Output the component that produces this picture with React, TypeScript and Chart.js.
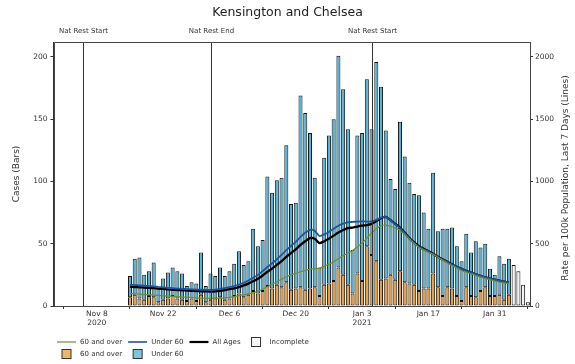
import React, { useEffect, useRef } from 'react';
import { Chart, registerables } from 'chart.js';

Chart.register(...registerables);

// ---------- data ----------
const AXIS_START = '2020-10-30';
const FIRST_DAY = '2020-11-15';

// total daily cases (bars), Nov 15 2020 .. Feb 7 2021
const totalCases = [
  24, 38, 39, 25, 28, 35, 14, 22, 27, 31,
  28, 26, 16, 19, 18, 43, 16, 26, 24, 31,
  24, 28, 34, 44, 33, 36, 62, 48, 53, 104,
  91, 101, 103, 129, 82, 83, 169, 155, 139, 103,
  31, 119, 137, 150, 201, 174, 142, 45, 137, 139,
  182, 142, 196, 176, 141, 102, 94, 148, 120, 99,
  90, 89, 75, 62, 107, 60, 62, 62, 63, 48,
  36, 58, 43, 52, 47, 50, 30, 25, 40, 34,
  38, 33, 28, 17, 3,
];

// cases aged 60 and over, complete days only (Nov 15 .. Feb 2)
const over60Cases = [
  7, 9, 6, 5, 8, 7, 3, 5, 6, 8,
  6, 5, 4, 6, 4, 9, 3, 5, 6, 7,
  5, 6, 8, 10, 7, 9, 12, 10, 12, 16,
  14, 17, 15, 19, 13, 14, 15, 13, 14, 15,
  8, 17, 18, 20, 31, 25, 17, 10, 26, 20,
  48, 41, 36, 21, 22, 25, 21, 28, 19, 18,
  17, 12, 14, 14, 26, 15, 8, 15, 14, 8,
  4, 15, 8, 7, 12, 15, 8, 8, 9, 5,
  9,
];

// rate per 100k, last 7 days (lines), Nov 15 .. Feb 2
const rateAllAges = [
  155, 152, 150, 148, 145, 143, 140, 137, 133, 130,
  128, 126, 124, 122, 120, 118, 117, 116, 118, 122,
  128, 135, 142, 152, 165, 180, 198, 218, 245, 275,
  300, 330, 360, 395, 425, 455, 490, 520, 545, 540,
  505, 520, 540, 565, 590, 610, 625, 630, 638, 645,
  650, 660, 680, 705, 715, 690, 660, 630, 590, 545,
  510, 480, 460, 440, 420, 395, 375, 355, 335, 315,
  298, 282, 268, 255, 242, 230, 220, 211, 203, 196,
  189,
];
const rateUnder60 = [
  170, 168, 166, 163, 160, 157, 153, 150, 146, 143,
  140, 138, 136, 134, 132, 131, 130, 130, 132, 137,
  143, 151, 160, 172, 187, 205, 226, 250, 280, 313,
  342, 375, 410, 448, 482, 515, 555, 588, 612, 605,
  562, 575, 595, 620, 645, 662, 672, 675, 678, 680,
  678, 680, 692, 710, 715, 688, 657, 625, 585, 540,
  505, 475, 455, 437, 418, 393, 373, 353, 333, 314,
  298, 283, 268, 256, 243, 231, 221, 212, 204, 197,
  190,
];
const rateOver60 = [
  100, 98, 95, 92, 90, 88, 85, 82, 80, 78,
  75, 72, 70, 68, 65, 63, 62, 62, 62, 63,
  66, 70, 76, 83, 90, 97, 105, 118, 135, 155,
  175, 195, 215, 235, 250, 262, 275, 285, 295, 300,
  303, 318, 335, 355, 380, 405, 425, 445, 475, 505,
  545, 585, 620, 645, 650, 640, 625, 605, 575, 540,
  505, 470, 450, 430, 415, 392, 368, 345, 325, 305,
  285, 272, 258, 245, 232, 222, 212, 202, 193, 186,
  180,
];

const tickDates = ['2020-11-08', '2020-11-22', '2020-12-06', '2020-12-20', '2021-01-03', '2021-01-17', '2021-01-31'];
const tickLabels = [['Nov 8', '2020'], ['Nov 22'], ['Dec 6'], ['Dec 20'], ['Jan 3', '2021'], ['Jan 17'], ['Jan 31']];
const casesTicks = [0, 50, 100, 150, 200];
const rateTicks = [0, 500, 1000, 1500, 2000];
const restrictionDates = ['2020-11-05', '2020-12-02', '2021-01-05'];
const restrictionLabels = ['Nat Rest Start', 'Nat Rest End', 'Nat Rest Start'];

// ---------- styles ----------
const FONT = '"DejaVu Sans", "Liberation Sans", sans-serif';
const TEXT = '#333';
const ORANGE = '#e99c3c';
const BLUE = '#52b3d6';
const INCOMPLETE = '#f4f4f4';
const EDGE = '#151515';
const LINE_OVER = '#6f8f2f';
const LINE_UNDER = '#1c56a3';
const LINE_ALL = '#000000';

function dayIndex(iso: string): number {
  const [y, m, d] = iso.split('-').map(Number);
  const [y0, m0, d0] = AXIS_START.split('-').map(Number);
  return Math.round((Date.UTC(y, m - 1, d) - Date.UTC(y0, m0 - 1, d0)) / 86400000);
}

const decorPlugin = {
  id: 'decor',
  afterDatasetsDraw(chart: any) {
    const { ctx, chartArea: a, scales } = chart;
    ctx.save();
    ctx.strokeStyle = '#333';
    ctx.lineWidth = 1;
    ctx.fillStyle = TEXT;
    ctx.font = `7px ${FONT}`;
    ctx.textAlign = 'center';
    ctx.textBaseline = 'middle';
    restrictionDates.forEach((d, k) => {
      const px = Math.round(scales.x.getPixelForValue(dayIndex(d))) + 0.5;
      ctx.beginPath();
      ctx.moveTo(px, a.top);
      ctx.lineTo(px, a.bottom);
      ctx.stroke();
      ctx.fillText(restrictionLabels[k], px, a.top - 11);
    });
    // frame
    ctx.strokeStyle = '#444';
    ctx.beginPath();
    ctx.rect(Math.round(a.left) + 0.5, Math.round(a.top) + 0.5, Math.round(a.right) - Math.round(a.left), Math.round(a.bottom) - Math.round(a.top));
    ctx.stroke();
    ctx.restore();
  },
  afterDraw(chart: any) {
    const { ctx, chartArea: a } = chart;
    ctx.save();
    // right axis title (reads bottom to top)
    ctx.fillStyle = TEXT;
    ctx.font = `9px ${FONT}`;
    ctx.textAlign = 'center';
    ctx.textBaseline = 'middle';
    ctx.translate(566, (a.top + a.bottom) / 2 + 4);
    ctx.rotate(-Math.PI / 2);
    ctx.fillText('Rate per 100k Population, Last 7 Days (Lines)', 0, 0);
    ctx.setTransform(1, 0, 0, 1, 0, 0);

    // legend
    const rows = [
      [
        { kind: 'line', label: '60 and over', color: LINE_OVER, width: 1.2 },
        { kind: 'line', label: 'Under 60', color: LINE_UNDER, width: 1.6 },
        { kind: 'line', label: 'All Ages', color: LINE_ALL, width: 2.2 },
        { kind: 'box', label: 'Incomplete', color: INCOMPLETE },
      ],
      [
        { kind: 'box', label: '60 and over', color: ORANGE },
        { kind: 'box', label: 'Under 60', color: BLUE },
      ],
    ];
    ctx.font = `7px ${FONT}`;
    ctx.textAlign = 'left';
    const handle = 19, pad = 4, gap = 6;
    const colW: number[] = [];
    rows.forEach((r) => r.forEach((it, c) => {
      colW[c] = Math.max(colW[c] || 0, ctx.measureText(it.label).width);
    }));
    const rowY = [a.bottom + 36, a.bottom + 48];
    rows.forEach((r, ri) => {
      let x = 57;
      r.forEach((it, c) => {
        const y = rowY[ri];
        if (it.kind === 'line') {
          ctx.strokeStyle = it.color;
          ctx.lineWidth = (it as any).width;
          ctx.beginPath();
          ctx.moveTo(x, y);
          ctx.lineTo(x + handle, y);
          ctx.stroke();
        } else {
          ctx.fillStyle = it.color;
          ctx.globalAlpha = 0.75;
          ctx.fillRect(x + handle / 2 - 4.5, y - 4.5, 9, 9);
          ctx.globalAlpha = 1;
          ctx.strokeStyle = '#333';
          ctx.lineWidth = 1;
          ctx.strokeRect(x + handle / 2 - 4.5, y - 4.5, 9, 9);
        }
        ctx.fillStyle = TEXT;
        ctx.fillText(it.label, x + handle + pad, y);
        x += handle + pad + colW[c] + gap;
      });
    });
    ctx.restore();
  },
};

export default function App() {
  const ref = useRef<HTMLCanvasElement | null>(null);

  useEffect(() => {
    document.body.style.margin = '0';
    const first = dayIndex(FIRST_DAY);
    const nComplete = over60Cases.length;
    const over60Bars = over60Cases.map((v, j) => ({ x: first + j, y: v }));
    const under60Bars = over60Cases.map((v, j) => ({ x: first + j, y: totalCases[j] - v }));
    const incompleteBars = totalCases.slice(nComplete).map((v, j) => ({ x: first + nComplete + j, y: v }));
    const lineOf = (arr: number[]) => arr.map((v, j) => ({ x: first + j, y: v }));

    const barCommon = {
      type: 'bar' as const,
      yAxisID: 'y',
      borderColor: EDGE,
      borderWidth: 1,
      borderSkipped: false,
      categoryPercentage: 1,
      barPercentage: 0.85,
      order: 2,
      stack: 'cases',
    };
    const lineCommon = {
      type: 'line' as const,
      yAxisID: 'y2',
      pointRadius: 0,
      fill: false,
      tension: 0.2,
      order: 0,
    };

    const tickFont = { family: FONT, size: 7.5 };
    const plain = (v: any) => String(v);
    const chart = new Chart(ref.current as HTMLCanvasElement, {
      data: {
        datasets: [
          { ...barCommon, label: '60 and over', data: over60Bars, backgroundColor: ORANGE },
          { ...barCommon, label: 'Under 60', data: under60Bars, backgroundColor: BLUE },
          { ...barCommon, label: 'Incomplete', data: incompleteBars, backgroundColor: INCOMPLETE },
          { ...lineCommon, label: '60 and over', data: lineOf(rateOver60), borderColor: LINE_OVER, borderWidth: 1.2 },
          { ...lineCommon, label: 'Under 60', data: lineOf(rateUnder60), borderColor: LINE_UNDER, borderWidth: 1.8 },
          { ...lineCommon, label: 'All Ages', data: lineOf(rateAllAges), borderColor: LINE_ALL, borderWidth: 2.3 },
        ] as any,
      },
      options: {
        responsive: false,
        animation: false,
        devicePixelRatio: 1,
        layout: { padding: 0 },
        plugins: {
          legend: { display: false },
          tooltip: { enabled: false },
          title: {
            display: true,
            text: 'Kensington and Chelsea',
            color: '#222',
            font: { family: FONT, size: 12.5, weight: 'normal' },
            padding: { top: 5, bottom: 22 },
          },
        },
        scales: {
          x: {
            type: 'linear',
            min: -0.15,
            max: 100.45,
            stacked: true,
            offset: false,
            afterBuildTicks: (s: any) => { s.ticks = tickDates.map((d) => ({ value: dayIndex(d) })); },
            afterFit: (s: any) => { s.height = 58; },
            ticks: {
              autoSkip: false,
              maxRotation: 0,
              padding: 1,
              color: TEXT,
              font: tickFont,
              callback: (v: any) => {
                const k = tickDates.findIndex((d) => dayIndex(d) === v);
                return k >= 0 ? tickLabels[k] : '';
              },
            },
            grid: { drawOnChartArea: false, drawTicks: true, tickLength: 3, color: '#333' },
            border: { display: true, color: '#333' },
          },
          y: {
            type: 'linear',
            position: 'left',
            min: 0,
            max: 212,
            stacked: true,
            afterBuildTicks: (s: any) => { s.ticks = casesTicks.map((v) => ({ value: v })); },
            afterFit: (s: any) => { s.width = 53.5; },
            ticks: { padding: 3, color: TEXT, font: tickFont, callback: plain },
            grid: { drawOnChartArea: false, tickLength: 3, color: '#333' },
            border: { display: true, color: '#333' },
            title: {
              display: true,
              text: 'Cases (Bars)',
              color: TEXT,
              font: { family: FONT, size: 9 },
              padding: { top: 11.6, bottom: 0 },
            },
          },
          y2: {
            type: 'linear',
            position: 'right',
            min: 0,
            max: 2120,
            stacked: false,
            afterBuildTicks: (s: any) => { s.ticks = rateTicks.map((v) => ({ value: v })); },
            afterFit: (s: any) => { s.width = 45; },
            ticks: { padding: 2, color: TEXT, font: tickFont, callback: plain },
            grid: { drawOnChartArea: false, tickLength: 3, color: '#333' },
            border: { display: true, color: '#333' },
          },
        },
      } as any,
      plugins: [decorPlugin],
    });
    return () => chart.destroy();
  }, []);

  return (
    <div style={{ position: 'relative', width: 575, height: 364, background: '#fff' }}>
      <canvas ref={ref} width={575} height={364} style={{ width: 575, height: 364, display: 'block' }} />
    </div>
  );
}
